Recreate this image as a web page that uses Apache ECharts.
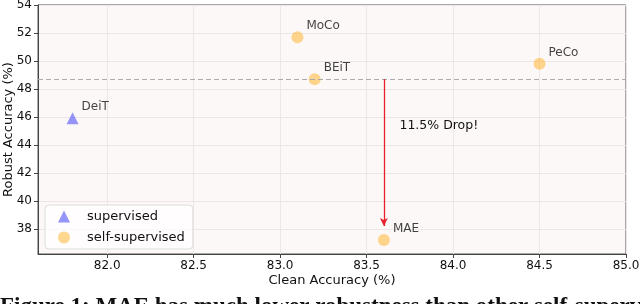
<!DOCTYPE html>
<html><head><meta charset="utf-8">
<script src="https://cdn.jsdelivr.net/npm/echarts@6/dist/echarts.min.js"></script>
<style>html,body{margin:0;padding:0;background:#fff}#c{width:640px;height:304px}</style>
</head><body><div id="c"></div>
<script>
var xTicks = [82.0, 82.5, 83.0, 83.5, 84.0, 84.5, 85.0];
var yTicks = [38, 40, 42, 44, 46, 48, 50, 52, 54];
var supervisedNames = ['DeiT'];
var supervisedClean = [81.8];
var supervisedRobust = [45.9];
var selfNames = ['MoCo', 'BEiT', 'PeCo', 'MAE'];
var selfClean = [83.1, 83.2, 84.5, 83.6];
var selfRobust = [51.7, 48.7, 49.8, 37.2];
var refLine = 48.7;
var dropFrom = [83.6, 48.7];
var dropTo = [83.6, 38.2];
var dropText = '11.5% Drop!';
var dropTextPos = [83.69, 45.4];
var caption = 'Figure 1: MAE has much lower robustness than other self-supervised';

var font = 'DejaVu Sans';
function pts(names, xs, ys) { return names.map(function (n, i) { return { name: n, value: [xs[i], ys[i]] }; }); }

var chart = echarts.init(document.getElementById('c'));
chart.setOption({
  animation: false,
  textStyle: { fontFamily: font },
  grid: { left: 38, right: 14, top: 5, bottom: 50, containLabel: false, outerBoundsMode: 'none',
    show: true, backgroundColor: '#fdf8f8', borderColor: '#555', borderWidth: 1 },
  xAxis: {
    type: 'value', min: 81.6, max: 85.0,
    name: 'Clean Accuracy (%)', nameLocation: 'middle', nameGap: 20, nameMoveOverlap: false,
    nameTextStyle: { fontSize: 13, color: '#111', fontFamily: font },
    axisLine: { show: true, lineStyle: { color: '#444' } },
    axisTick: { show: true, length: 4, lineStyle: { color: '#444' }, customValues: xTicks },
    axisLabel: { customValues: xTicks, formatter: function (v) { return v.toFixed(1); }, fontSize: 12, color: '#111', margin: 6 },
    splitLine: { show: true, lineStyle: { color: '#ece6e6' } }
  },
  yAxis: {
    type: 'value', min: 36.2, max: 54,
    name: 'Robust Accuracy (%)', nameLocation: 'middle', nameGap: 23, nameMoveOverlap: false,
    nameTextStyle: { fontSize: 13, color: '#111', fontFamily: font },
    axisLine: { show: true, lineStyle: { color: '#444' } },
    axisTick: { show: true, length: 4, lineStyle: { color: '#444' }, customValues: yTicks },
    axisLabel: { customValues: yTicks, fontSize: 12, color: '#111', margin: 6 },
    splitLine: { show: true, lineStyle: { color: '#ece6e6' } }
  },
  legend: {
    orient: 'vertical', left: 45, top: 205,
    padding: [5, 8, 5, 13], itemGap: 8,
    backgroundColor: 'rgba(255,255,255,0.75)', borderColor: '#ddd', borderWidth: 1, borderRadius: 4,
    itemWidth: 12, itemHeight: 12,
    textStyle: { fontSize: 13, color: '#111', padding: [0, 0, 0, 12] },
    data: [{ name: 'supervised', icon: 'triangle' }, { name: 'self-supervised', icon: 'circle' }]
  },
  series: [
    {
      name: 'supervised', type: 'scatter', symbol: 'triangle', symbolSize: 12,
      itemStyle: { color: 'rgba(80,80,245,0.75)' },
      label: { show: true, formatter: '{b}', position: 'right', distance: 3, offset: [0, -11], fontSize: 12, color: '#111' },
      data: pts(supervisedNames, supervisedClean, supervisedRobust),
      z: 5
    },
    {
      name: 'self-supervised', type: 'scatter', symbol: 'circle', symbolSize: 12,
      itemStyle: { color: 'rgba(255,185,60,0.72)' },
      label: { show: true, formatter: '{b}', position: 'right', distance: 3, offset: [0, -11], fontSize: 12, color: '#111' },
      data: pts(selfNames, selfClean, selfRobust),
      markLine: {
        silent: true, symbol: ['none', 'none'], animation: false,
        label: { show: false },
        data: [
          { yAxis: refLine, lineStyle: { color: '#aaa', type: [5, 3], width: 1.2 } },
          [
            { coord: dropFrom, symbol: 'none', lineStyle: { color: '#e8202a', width: 1.3, type: 'solid' } },
            { coord: dropTo, symbol: 'arrow', symbolSize: [6, 8] }
          ]
        ]
      },
      markPoint: {
        silent: true, symbol: 'circle', symbolSize: 0,
        data: [{ coord: dropTextPos, value: dropText,
          label: { show: true, formatter: dropText, position: 'right', distance: 0, fontSize: 12.5, color: '#111' } }]
      },
      z: 4
    }
  ],
  graphic: [{ type: 'text', left: 0, top: 296, style: { text: caption, font: 'bold 23px "Liberation Serif"', fill: '#111' } }]
});
</script></body></html>
